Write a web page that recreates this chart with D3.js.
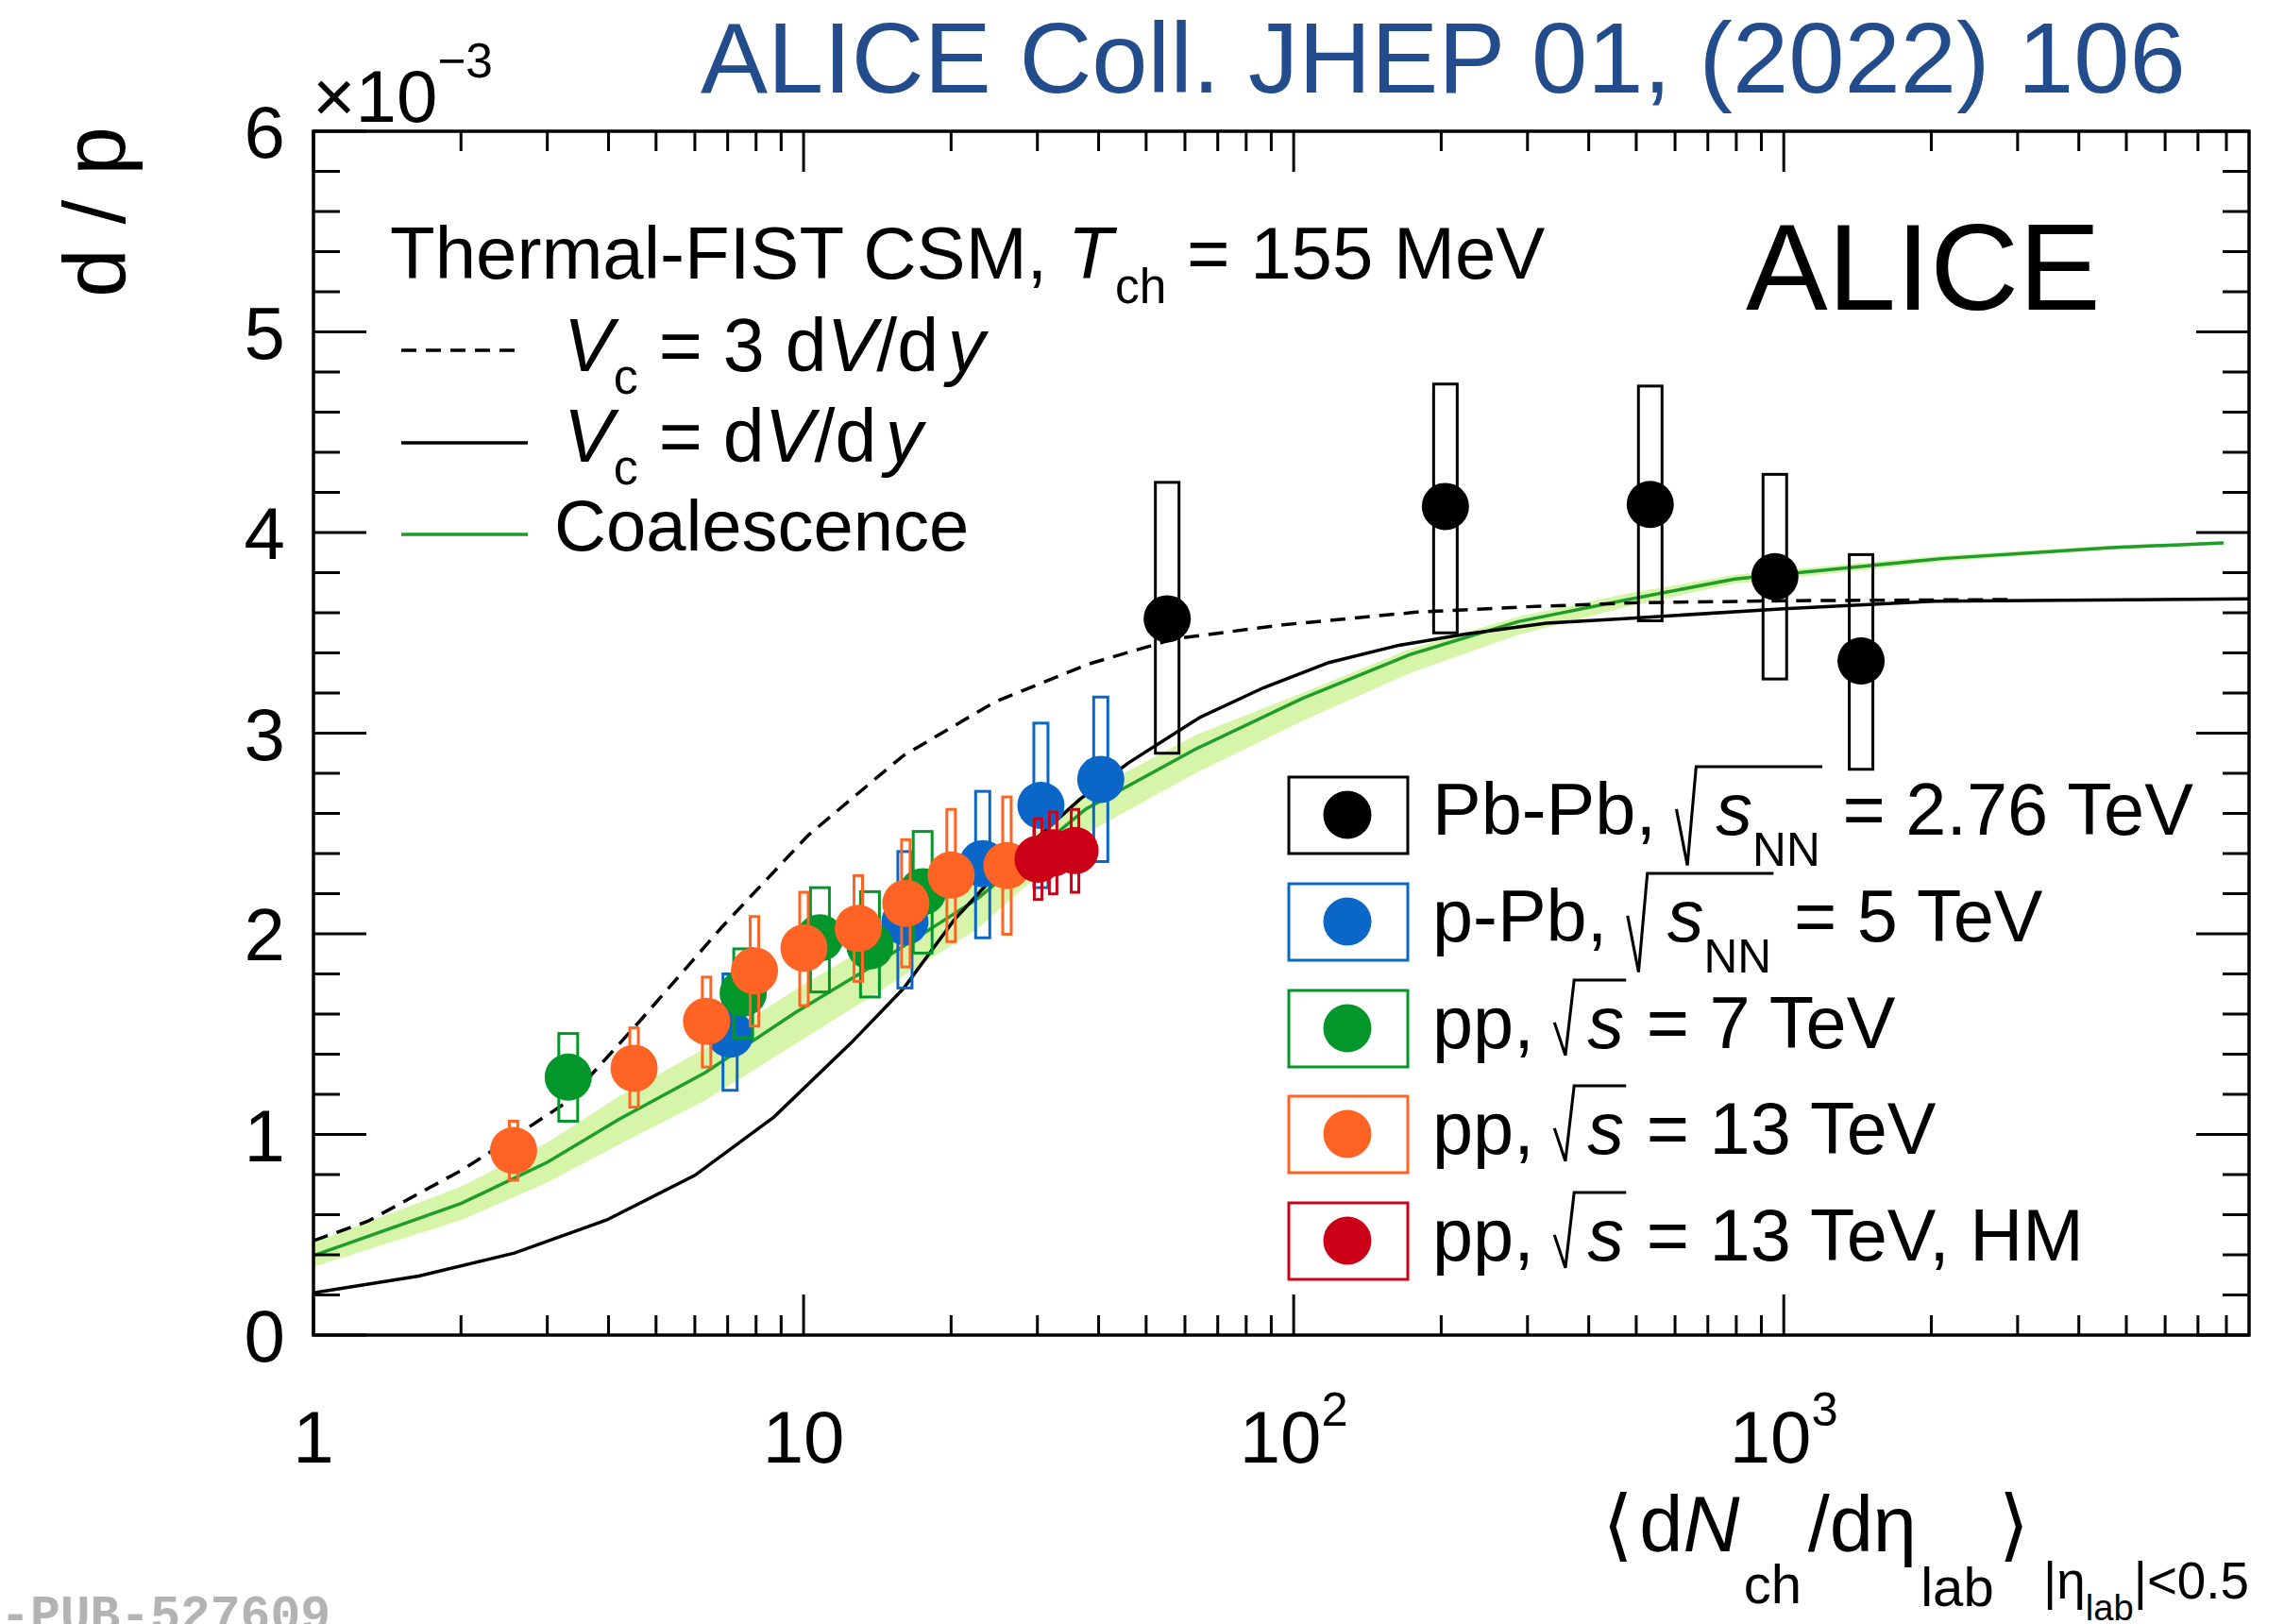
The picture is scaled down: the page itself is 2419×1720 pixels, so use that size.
<!DOCTYPE html>
<html>
<head>
<meta charset="utf-8">
<script src="https://cdn.jsdelivr.net/npm/d3@7"></script>
<style>
  html, body { margin: 0; padding: 0; background: #fff; }
  svg text { font-family: "Liberation Sans", Arial, Helvetica, sans-serif; white-space: pre; }
</style>
</head>
<body>
<svg id="chart"></svg>
<script>
const W = 2419, H = 1720;

// d/p values are in units of 1e-3 (axis multiplier x10^-3)
// Pb-Pb, sqrt(sNN) = 2.76 TeV
const pbpbNch = [55.2, 204, 534, 959, 1438];
const pbpbDp = [3.57, 4.13, 4.14, 3.78, 3.36];
const pbpbSysLo = [2.90, 3.50, 3.56, 3.27, 2.82];
const pbpbSysHi = [4.25, 4.74, 4.73, 4.29, 3.89];

// p-Pb, sqrt(sNN) = 5 TeV
const ppbNch = [7.08, 16.1, 23.2, 30.5, 40.4];
const ppbDp = [1.50, 2.06, 2.35, 2.64, 2.77];
const ppbSysLo = [1.22, 1.73, 1.98, 2.23, 2.36];
const ppbSysHi = [1.80, 2.41, 2.71, 3.05, 3.18];

// pp, sqrt(s) = 7 TeV
const pp7Nch = [3.31, 7.53, 10.8, 13.66, 17.5];
const pp7Dp = [1.286, 1.705, 1.98, 1.94, 2.21];
const pp7SysLo = [1.066, 1.481, 1.71, 1.685, 1.904];
const pp7SysHi = [1.503, 1.925, 2.23, 2.21, 2.51];

// pp, sqrt(s) = 13 TeV
const pp13Nch = [2.56, 4.51, 6.34, 7.94, 10.02, 12.93, 16.17, 20.0, 26.0];
const pp13Dp = [0.92, 1.33, 1.564, 1.815, 1.929, 2.027, 2.152, 2.293, 2.34];
const pp13SysLo = [0.772, 1.136, 1.336, 1.54, 1.642, 1.763, 1.835, 1.961, 1.998];
const pp13SysHi = [1.066, 1.531, 1.784, 2.086, 2.207, 2.29, 2.469, 2.62, 2.682];

// pp, sqrt(s) = 13 TeV, high multiplicity
const ppHMNch = [30.1, 32.3, 35.8];
const ppHMDp = [2.372, 2.403, 2.415];
const ppHMSysLo = [2.171, 2.199, 2.207];
const ppHMSysHi = [2.573, 2.607, 2.62];

// Thermal-FIST CSM, Vc = 3 dV/dy
const csm3Nch = [1, 1.29, 2, 2.5, 3.28, 4.61, 6.81, 10.2, 14.1, 16, 24.6, 38.1, 57.1, 95, 178, 300, 500, 1000, 2900];
const csm3Dp = [0.47, 0.567, 0.82, 0.97, 1.159, 1.559, 2.033, 2.489, 2.778, 2.889, 3.156, 3.344, 3.47, 3.54, 3.603, 3.63, 3.65, 3.66, 3.666];

// Thermal-FIST CSM, Vc = dV/dy
const csm1Nch = [1, 1.64, 2.57, 3.96, 6.0, 8.71, 12.5, 16, 20.3, 25, 30, 36.6, 45.9, 64.3, 86.9, 118, 164, 223, 328, 481, 1000, 2036, 8900];
const csm1Dp = [0.21, 0.294, 0.409, 0.573, 0.796, 1.088, 1.456, 1.728, 2.07, 2.31, 2.48, 2.67, 2.85, 3.078, 3.227, 3.352, 3.438, 3.493, 3.548, 3.572, 3.62, 3.658, 3.669];

// Coalescence (central value and band)
const coalNch = [1, 2, 3, 4.2, 6.3, 9.6, 14, 22.5, 37.7, 63, 104, 173, 287, 478, 794, 2100, 4660, 7900];
const coalDp = [0.396, 0.656, 0.861, 1.075, 1.308, 1.606, 1.848, 2.17, 2.623, 2.92, 3.172, 3.392, 3.556, 3.665, 3.768, 3.87, 3.925, 3.948];
const coalLo = [0.34, 0.573, 0.76, 0.95, 1.17, 1.45, 1.70, 2.02, 2.50, 2.80, 3.06, 3.30, 3.49, 3.63, 3.745, 3.855, 3.915, 3.94];
const coalHi = [0.461, 0.74, 0.96, 1.19, 1.43, 1.72, 1.96, 2.27, 2.70, 2.99, 3.20, 3.42, 3.58, 3.695, 3.79, 3.885, 3.935, 3.956];

// axis ticks
const xMajorTicks = [1, 10, 100, 1000];
const xTickLabels = [["1", ""], ["10", ""], ["10", "2"], ["10", "3"]];
const yMajorTicks = [0, 1, 2, 3, 4, 5, 6];

// series order = draw order
const seriesNames = ["Pb-Pb", "p-Pb", "pp7", "pp13", "ppHM"];
const seriesX = [pbpbNch, ppbNch, pp7Nch, pp13Nch, ppHMNch];
const seriesY = [pbpbDp, ppbDp, pp7Dp, pp13Dp, ppHMDp];
const seriesLo = [pbpbSysLo, ppbSysLo, pp7SysLo, pp13SysLo, ppHMSysLo];
const seriesHi = [pbpbSysHi, ppbSysHi, pp7SysHi, pp13SysHi, ppHMSysHi];

const style = {
  "Pb-Pb": { color: "#000000", boxW: 25 },
  "p-Pb": { color: "#0a67c8", boxW: 15 },
  "pp7": { color: "#03962a", boxW: 20 },
  "pp13": { color: "#ff6424", boxW: 9 },
  "ppHM": { color: "#cc0016", boxW: 8 }
};

const svg = d3.select("#chart").attr("width", W).attr("height", H)
  .style("background", "#fff");

const x = d3.scaleLog().domain([1, 8900]).range([332, 2382]);
const y = d3.scaleLinear().domain([0, 6]).range([1414, 139]);
const [x0, x1] = x.range();
const [yb, yt] = y.range();

// rich text: segments laid out one after another
function rich(parent, px, py, segs, fs, anchor, color) {
  color = color || "#000";
  const g = parent.append("g");
  let cx = 0, rad = null;
  segs.forEach(s => {
    if (s.rad === "open") { rad = { x: cx, deep: s.deep }; cx += (s.w || 0.5) * fs; return; }
    if (s.rad === "close") {
      const b = rad.deep ? 0.42 * fs : 0.1 * fs;
      g.append("path")
        .attr("d", `M${rad.x},${-0.35 * fs}L${rad.x + 0.15 * fs},${b}L${rad.x + 0.27 * fs},${-0.93 * fs}L${cx + 0.03 * fs},${-0.93 * fs}`)
        .attr("fill", "none").attr("stroke", color).attr("stroke-width", 0.04 * fs);
      cx += 0.03 * fs;
      return;
    }
    if (s.gap) { cx += s.gap * fs; return; }
    const t = g.append("text").attr("x", cx).attr("y", (s.dy || 0) * fs)
      .attr("font-size", (s.s || 1) * fs).attr("fill", color).text(s.t);
    if (s.it) t.attr("font-style", "italic");
    if (s.font) t.style("font-family", s.font);
    cx += t.node().getComputedTextLength();
  });
  const ox = anchor === "end" ? px - cx : anchor === "middle" ? px - cx / 2 : px;
  g.attr("transform", `translate(${ox},${py})`);
  return g;
}

svg.append("defs").append("clipPath").attr("id", "plotclip")
  .append("rect").attr("x", x0).attr("y", yt).attr("width", x1 - x0).attr("height", yb - yt);

const plot = svg.append("g").attr("clip-path", "url(#plotclip)");

// coalescence band
const band = coalNch.map((n, i) => ({ n, lo: coalLo[i], hi: coalHi[i] }));
plot.append("path").datum(band)
  .attr("d", d3.area().x(d => x(d.n)).y0(d => y(d.lo)).y1(d => y(d.hi)))
  .attr("fill", "#d6f5a9");

const line = d3.line().x(d => x(d[0])).y(d => y(d[1]));
plot.append("path").datum(coalNch.map((n, i) => [n, coalDp[i]]))
  .attr("d", line).attr("fill", "none").attr("stroke", "#1f9d2b").attr("stroke-width", 3.5);
plot.append("path").datum(csm1Nch.map((n, i) => [n, csm1Dp[i]]))
  .attr("d", line).attr("fill", "none").attr("stroke", "#000").attr("stroke-width", 3.5);
plot.append("path").datum(csm3Nch.map((n, i) => [n, csm3Dp[i]]))
  .attr("d", line).attr("fill", "none").attr("stroke", "#000").attr("stroke-width", 3.5)
  .attr("stroke-dasharray", "16,10");

// data: systematic boxes then markers
seriesNames.forEach((name, si) => {
  const st = style[name];
  const pts = seriesX[si].map((n, i) => ({ n, v: seriesY[si][i], lo: seriesLo[si][i], hi: seriesHi[si][i] }));
  const g = plot.append("g");
  g.selectAll("rect").data(pts).enter().append("rect")
    .attr("x", d => x(d.n) - st.boxW / 2)
    .attr("y", d => y(d.hi))
    .attr("width", st.boxW)
    .attr("height", d => y(d.lo) - y(d.hi))
    .attr("fill", "none").attr("stroke", st.color).attr("stroke-width", 3);
  g.selectAll("circle").data(pts).enter().append("circle")
    .attr("cx", d => x(d.n)).attr("cy", d => y(d.v)).attr("r", 25)
    .attr("fill", st.color);
});

// axes frame + ticks
const axes = svg.append("g").attr("stroke", "#000").attr("stroke-width", 3);
const xMinor = [];
[1, 10, 100, 1000].forEach(dec => d3.range(2, 10).forEach(k => { if (dec * k <= 8900) xMinor.push(dec * k); }));
const yMinor = d3.range(0, 30).map(i => i * 0.2).filter(v => Math.abs(v - Math.round(v)) > 1e-6);

xMajorTicks.forEach(v => {
  axes.append("line").attr("x1", x(v)).attr("x2", x(v)).attr("y1", yb).attr("y2", yb - 43);
  axes.append("line").attr("x1", x(v)).attr("x2", x(v)).attr("y1", yt).attr("y2", yt + 43);
});
xMinor.forEach(v => {
  axes.append("line").attr("x1", x(v)).attr("x2", x(v)).attr("y1", yb).attr("y2", yb - 21);
  axes.append("line").attr("x1", x(v)).attr("x2", x(v)).attr("y1", yt).attr("y2", yt + 21);
});
yMajorTicks.forEach(v => {
  axes.append("line").attr("x1", x0).attr("x2", x0 + 56).attr("y1", y(v)).attr("y2", y(v));
  axes.append("line").attr("x1", x1).attr("x2", x1 - 56).attr("y1", y(v)).attr("y2", y(v));
});
yMinor.forEach(v => {
  axes.append("line").attr("x1", x0).attr("x2", x0 + 28).attr("y1", y(v)).attr("y2", y(v));
  axes.append("line").attr("x1", x1).attr("x2", x1 - 28).attr("y1", y(v)).attr("y2", y(v));
});
axes.append("rect").attr("x", x0).attr("y", yt).attr("width", x1 - x0).attr("height", yb - yt)
  .attr("fill", "none").attr("stroke-width", 3.5);

// tick labels
yMajorTicks.forEach(v => {
  svg.append("text").attr("x", 302).attr("y", y(v) + 28).attr("text-anchor", "end")
    .attr("font-size", 78).text(v);
});
xMajorTicks.forEach((v, i) => {
  const [base, exp] = xTickLabels[i];
  const segs = [{ t: base }];
  if (exp) segs.push({ t: exp, s: 0.65, dy: -0.5 });
  rich(svg, x(v), 1549, segs, 78, "middle");
});
rich(svg, 331, 129, [{ t: "×10" }, { t: "−3", s: 0.66, dy: -0.6 }], 78, "start");

// axis titles
svg.append("text").attr("transform", "translate(132,134) rotate(-90)")
  .attr("text-anchor", "end").attr("font-size", 93).text("d / p");

rich(svg, 2382, 1643, [
  { t: "⟨", font: "DejaVu Sans" }, { gap: 0.08 },
  { t: "d" }, { t: "N", it: true }, { gap: 0.05 }, { t: "ch", s: 0.7, dy: 0.66 }, { gap: 0.08 },
  { t: "/dη" }, { gap: 0.05 }, { t: "lab", s: 0.7, dy: 0.7 }, { gap: 0.06 },
  { t: "⟩", font: "DejaVu Sans" }, { gap: 0.18 },
  { t: "|η", s: 0.66, dy: 0.6 }, { t: "lab", s: 0.46, dy: 0.88 }, { t: "|<0.5", s: 0.66, dy: 0.6 }
], 83, "end");

// header texts
svg.append("text").attr("x", 742).attr("y", 98).attr("font-size", 106.5)
  .attr("fill", "#234c8c").text("ALICE Coll. JHEP 01, (2022) 106");
svg.append("text").attr("x", 1849).attr("y", 328).attr("font-size", 130).text("ALICE");

// model legend
rich(svg, 413, 295, [
  { t: "Thermal-FIST CSM, " }, { t: "T", it: true }, { gap: 0.03 }, { t: "ch", s: 0.66, dy: 0.33 }, { t: " = 155 MeV" }
], 78, "start");
svg.append("line").attr("x1", 425).attr("x2", 547).attr("y1", 371).attr("y2", 371)
  .attr("stroke", "#000").attr("stroke-width", 3.5).attr("stroke-dasharray", "16,10");
svg.append("line").attr("x1", 425).attr("x2", 559).attr("y1", 469).attr("y2", 469)
  .attr("stroke", "#000").attr("stroke-width", 3.5);
svg.append("line").attr("x1", 425).attr("x2", 559).attr("y1", 566).attr("y2", 566)
  .attr("stroke", "#1f9d2b").attr("stroke-width", 3.5);
rich(svg, 597, 393, [
  { t: "V", it: true }, { t: "c", s: 0.66, dy: 0.3 }, { t: " = 3 d" }, { t: "V", it: true }, { t: "/d" }, { gap: 0.12 }, { t: "y", it: true }
], 79, "start");
rich(svg, 597, 489, [
  { t: "V", it: true }, { t: "c", s: 0.66, dy: 0.3 }, { t: " = d" }, { t: "V", it: true }, { t: "/d" }, { gap: 0.12 }, { t: "y", it: true }
], 79, "start");
svg.append("text").attr("x", 587).attr("y", 583).attr("font-size", 76).text("Coalescence");

// data legend
const legendCy = [863, 976, 1089, 1201, 1314];
const legendTexts = [
  [{ t: "Pb-Pb, " }, { rad: "open", deep: true, w: 0.54 }, { t: "s", it: true }, { t: "NN", s: 0.64, dy: 0.42 }, { rad: "close" }, { t: " = 2.76 TeV" }],
  [{ t: "p-Pb, " }, { rad: "open", deep: true, w: 0.54 }, { t: "s", it: true }, { t: "NN", s: 0.64, dy: 0.42 }, { rad: "close" }, { t: " = 5 TeV" }],
  [{ t: "pp, " }, { rad: "open", w: 0.45 }, { t: "s", it: true }, { rad: "close" }, { t: " = 7 TeV" }],
  [{ t: "pp, " }, { rad: "open", w: 0.45 }, { t: "s", it: true }, { rad: "close" }, { t: " = 13 TeV" }],
  [{ t: "pp, " }, { rad: "open", w: 0.45 }, { t: "s", it: true }, { rad: "close" }, { t: " = 13 TeV, HM" }]
];
seriesNames.forEach((name, i) => {
  const st = style[name];
  const cy = legendCy[i];
  svg.append("rect").attr("x", 1365).attr("y", cy - 40).attr("width", 126).attr("height", 81)
    .attr("fill", "#fff").attr("stroke", st.color).attr("stroke-width", 3);
  svg.append("circle").attr("cx", 1427).attr("cy", cy).attr("r", 25.5).attr("fill", st.color);
  rich(svg, 1517, cy + 21, legendTexts[i], 77.5, "start");
});

// preprint id (partly outside the canvas)
svg.append("text").attr("x", 350).attr("y", 1727).attr("text-anchor", "end")
  .attr("font-size", 53).attr("font-weight", "bold").attr("fill", "#b3b3b3")
  .style("font-family", "'Liberation Mono', 'DejaVu Sans Mono', monospace")
  .text("ALI-PUB-527609");
</script>
</body>
</html>
